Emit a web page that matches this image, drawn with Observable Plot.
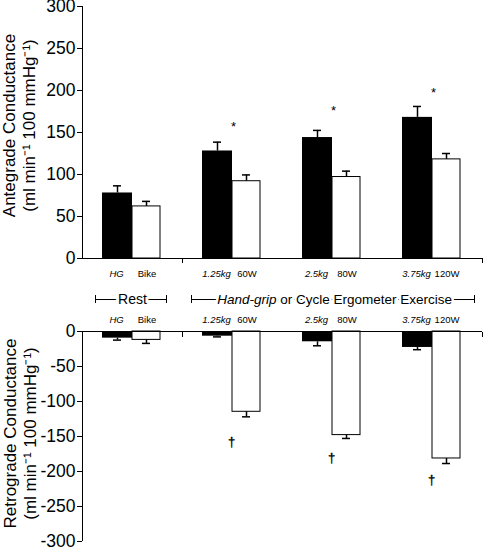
<!DOCTYPE html>
<html><head><meta charset="utf-8">
<script src="https://cdn.jsdelivr.net/npm/d3@7"></script>
<script src="https://cdn.jsdelivr.net/npm/@observablehq/plot@0.6"></script>
<style>
body{margin:0;background:#fff;}
#chart{position:relative;width:484px;height:547px;}
#chart svg{position:absolute;left:0;overflow:visible;}
</style></head><body><div id="chart"></div>
<script>
// ---- data ----
const groups = ["Rest", "Ex1", "Ex2", "Ex3"];
const handLabels = ["HG", "1.25kg", "2.5kg", "3.75kg"];
const bikeLabels = ["Bike", "60W", "80W", "120W"];
const anteHand = [78, 128, 144, 168];
const anteHandSem = [8.5, 10.5, 8.5, 13];
const anteBike = [62, 92, 97, 118];
const anteBikeSem = [6, 7.5, 7, 7];
const retroHand = [-9.5, -6.7, -14.7, -22.8];
const retroHandSem = [2.8, 1, 5.7, 3.2];
const retroBike = [-12, -114.7, -148, -181.4];
const retroBikeSem = [5, 7.2, 4.8, 7.2];
const starY = [null, 160, 179, 201];
const daggerY = [null, -157, -180, -212];
const yTicksTop = [0, 50, 100, 150, 200, 250, 300];
const yTicksBottom = [0, -50, -100, -150, -200, -250, -300];
const xBoundaries = [1, 4];
const topTitle = "Antegrade Conductance\n(ml min\u207B\u00B9 100 mmHg\u207B\u00B9)";
const bottomTitle = "Retrograde Conductance\n(ml min\u207B\u00B9 100 mmHg\u207B\u00B9)";
const restBracket = {label: "Rest", from: 0, to: 1};
const exBracket = {italic: "Hand-grip", rest: " or Cycle Ergometer Exercise", from: 1, to: 4};

const rows = groups.map((g, i) => ({
  i, g,
  hand: anteHand[i], handSem: anteHandSem[i],
  bike: anteBike[i], bikeSem: anteBikeSem[i],
  rHand: retroHand[i], rHandSem: retroHandSem[i],
  rBike: retroBike[i], rBikeSem: retroBikeSem[i],
  star: starY[i], dagger: daggerY[i],
  handLabel: handLabels[i], bikeLabel: bikeLabels[i]
}));

const W = 484;
const style = {fontFamily: "'Liberation Sans', Arial, sans-serif", fontSize: "17px", background: "none", overflow: "visible", color: "black"};
const FONT = "'Liberation Sans', Arial, sans-serif";
const x0 = d => d.i, x1 = d => d.i + 1, xc = d => d.i + 0.5, zero = () => 0;

// ---- top: antegrade ----
const topPlot = Plot.plot({
  width: W, height: 270, marginLeft: 82, marginRight: 2, marginTop: 6, marginBottom: 12,
  x: {domain: [0, 4]},
  y: {domain: [0, 300]},
  style,
  marks: [
    Plot.rect(rows, {x1: x0, x2: x1, y1: zero, y2: "hand", fill: "black", insetLeft: 20, insetRight: 50}),
    Plot.rect(rows, {x1: x0, x2: x1, y1: zero, y2: "bike", fill: "white", stroke: "black", insetLeft: 50, insetRight: 22}),
    Plot.ruleX(rows, {x: xc, y1: "hand", y2: d => d.hand + d.handSem, dx: -15, strokeWidth: 1.5}),
    Plot.ruleY(rows, {x1: x0, x2: x1, y: d => d.hand + d.handSem, insetLeft: 31, insetRight: 61, strokeWidth: 1.5}),
    Plot.ruleX(rows, {x: xc, y1: "bike", y2: d => d.bike + d.bikeSem, dx: 14, strokeWidth: 1.5}),
    Plot.ruleY(rows, {x1: x0, x2: x1, y: d => d.bike + d.bikeSem, insetLeft: 60, insetRight: 32, strokeWidth: 1.5}),
    Plot.text(rows.filter(d => d.star != null), {x: xc, y: "star", text: () => "*", fill: "black", fontSize: 13, dx: 1, dy: 3, fontFamily: FONT}),
    Plot.ruleX([0]),
    Plot.ruleY([0]),
    Plot.axisY(yTicksTop, {tickSize: 5, tickPadding: 2, label: null, tickFormat: d => String(d), fontSize: 17.5}),
    Plot.axisX(xBoundaries, {tickSize: 5, label: null, tickFormat: () => ""}),
    Plot.text([topTitle], {frameAnchor: "left", textAnchor: "middle", lineAnchor: "middle", rotate: -90, dx: -64, dy: -7, lineHeight: 1.176, fontSize: 17, fontFamily: FONT})
  ]
});

// ---- middle: category labels and brackets ----
const labelOpts = {fontSize: 9.5, fontFamily: FONT, lineAnchor: "middle"};
const midPlot = Plot.plot({
  width: W, height: 70, marginLeft: 82, marginRight: 2, marginTop: 35, marginBottom: 27,
  x: {domain: [0, 4], axis: null},
  y: {domain: [-1, 1], axis: null},
  style,
  marks: [
    Plot.text(rows, {x: xc, text: "handLabel", frameAnchor: "top", dy: -22, dx: -16, fontStyle: "italic", ...labelOpts}),
    Plot.text(rows, {x: xc, text: "bikeLabel", frameAnchor: "top", dy: -22, dx: 14.5, ...labelOpts}),
    Plot.text(rows, {x: xc, text: "handLabel", frameAnchor: "bottom", dy: 16.5, dx: -16, fontStyle: "italic", ...labelOpts}),
    Plot.text(rows, {x: xc, text: "bikeLabel", frameAnchor: "bottom", dy: 16.5, dx: 14.5, ...labelOpts}),
    // Rest bracket
    Plot.ruleY([restBracket], {x1: "from", x2: "to", y: zero, insetLeft: 13, insetRight: 16}),
    Plot.ruleX([restBracket], {x: "from", dx: 13}),
    Plot.ruleX([restBracket], {x: "to", dx: -16}),
    Plot.text([restBracket], {x: d => (d.from + d.to) / 2, text: "label", frameAnchor: "middle", lineAnchor: "middle", fontSize: 14, stroke: "white", strokeWidth: 6, fill: "black", paintOrder: "stroke", fontFamily: FONT}),
    // Exercise bracket
    Plot.ruleY([exBracket], {x1: "from", x2: "to", y: zero, insetLeft: 9, insetRight: 8}),
    Plot.ruleX([exBracket], {x: "from", dx: 9}),
    Plot.ruleX([exBracket], {x: "to", dx: -8}),
    Plot.text([exBracket], {x: d => (d.from + d.to) / 2, text: "italic", textAnchor: "end", dx: -56, frameAnchor: "middle", lineAnchor: "middle", fontSize: 13.5, fontStyle: "italic", stroke: "white", strokeWidth: 5, fill: "black", paintOrder: "stroke", fontFamily: FONT}),
    Plot.text([exBracket], {x: d => (d.from + d.to) / 2, text: "rest", textAnchor: "start", dx: -56, frameAnchor: "middle", lineAnchor: "middle", fontSize: 13.5, stroke: "white", strokeWidth: 5, fill: "black", paintOrder: "stroke", fontFamily: FONT})
  ]
});

// ---- bottom: retrograde ----
const botPlot = Plot.plot({
  width: W, height: 226, marginLeft: 82, marginRight: 2, marginTop: 10, marginBottom: 6,
  x: {domain: [0, 4]},
  y: {domain: [-300, 0]},
  style,
  marks: [
    Plot.rect(rows, {x1: x0, x2: x1, y1: zero, y2: "rHand", fill: "black", insetLeft: 20, insetRight: 50}),
    Plot.rect(rows, {x1: x0, x2: x1, y1: zero, y2: "rBike", fill: "white", stroke: "black", insetLeft: 50, insetRight: 22}),
    Plot.ruleX(rows, {x: xc, y1: "rHand", y2: d => d.rHand - d.rHandSem, dx: -15, strokeWidth: 1.5}),
    Plot.ruleY(rows, {x1: x0, x2: x1, y: d => d.rHand - d.rHandSem, insetLeft: 31, insetRight: 61, strokeWidth: 1.5}),
    Plot.ruleX(rows, {x: xc, y1: "rBike", y2: d => d.rBike - d.rBikeSem, dx: 14, strokeWidth: 1.5}),
    Plot.ruleY(rows, {x1: x0, x2: x1, y: d => d.rBike - d.rBikeSem, insetLeft: 60, insetRight: 32, strokeWidth: 1.5}),
    Plot.text(rows.filter(d => d.dagger != null), {x: xc, y: "dagger", text: () => "\u2020", fill: "black", stroke: "black", strokeWidth: 0.3, fontSize: 13, dx: -1, dy: 0, fontFamily: FONT}),
    Plot.ruleX([0]),
    Plot.ruleY([0]),
    Plot.axisY(yTicksBottom, {tickSize: 5, tickPadding: 2, label: null, tickFormat: d => String(d), fontSize: 17.5}),
    Plot.axisX(xBoundaries, {anchor: "top", tickSize: 5, dy: 5, label: null, tickFormat: () => ""}),
    Plot.text([bottomTitle], {frameAnchor: "left", textAnchor: "middle", lineAnchor: "middle", rotate: -90, dx: -62.5, dy: -3, lineHeight: 1.176, fontSize: 17, fontFamily: FONT})
  ]
});

const chart = document.getElementById("chart");
[[topPlot, 0], [midPlot, 260], [botPlot, 321]].forEach(([el, t]) => {
  el.style.top = t + "px";
  chart.appendChild(el);
});
</script></body></html>
